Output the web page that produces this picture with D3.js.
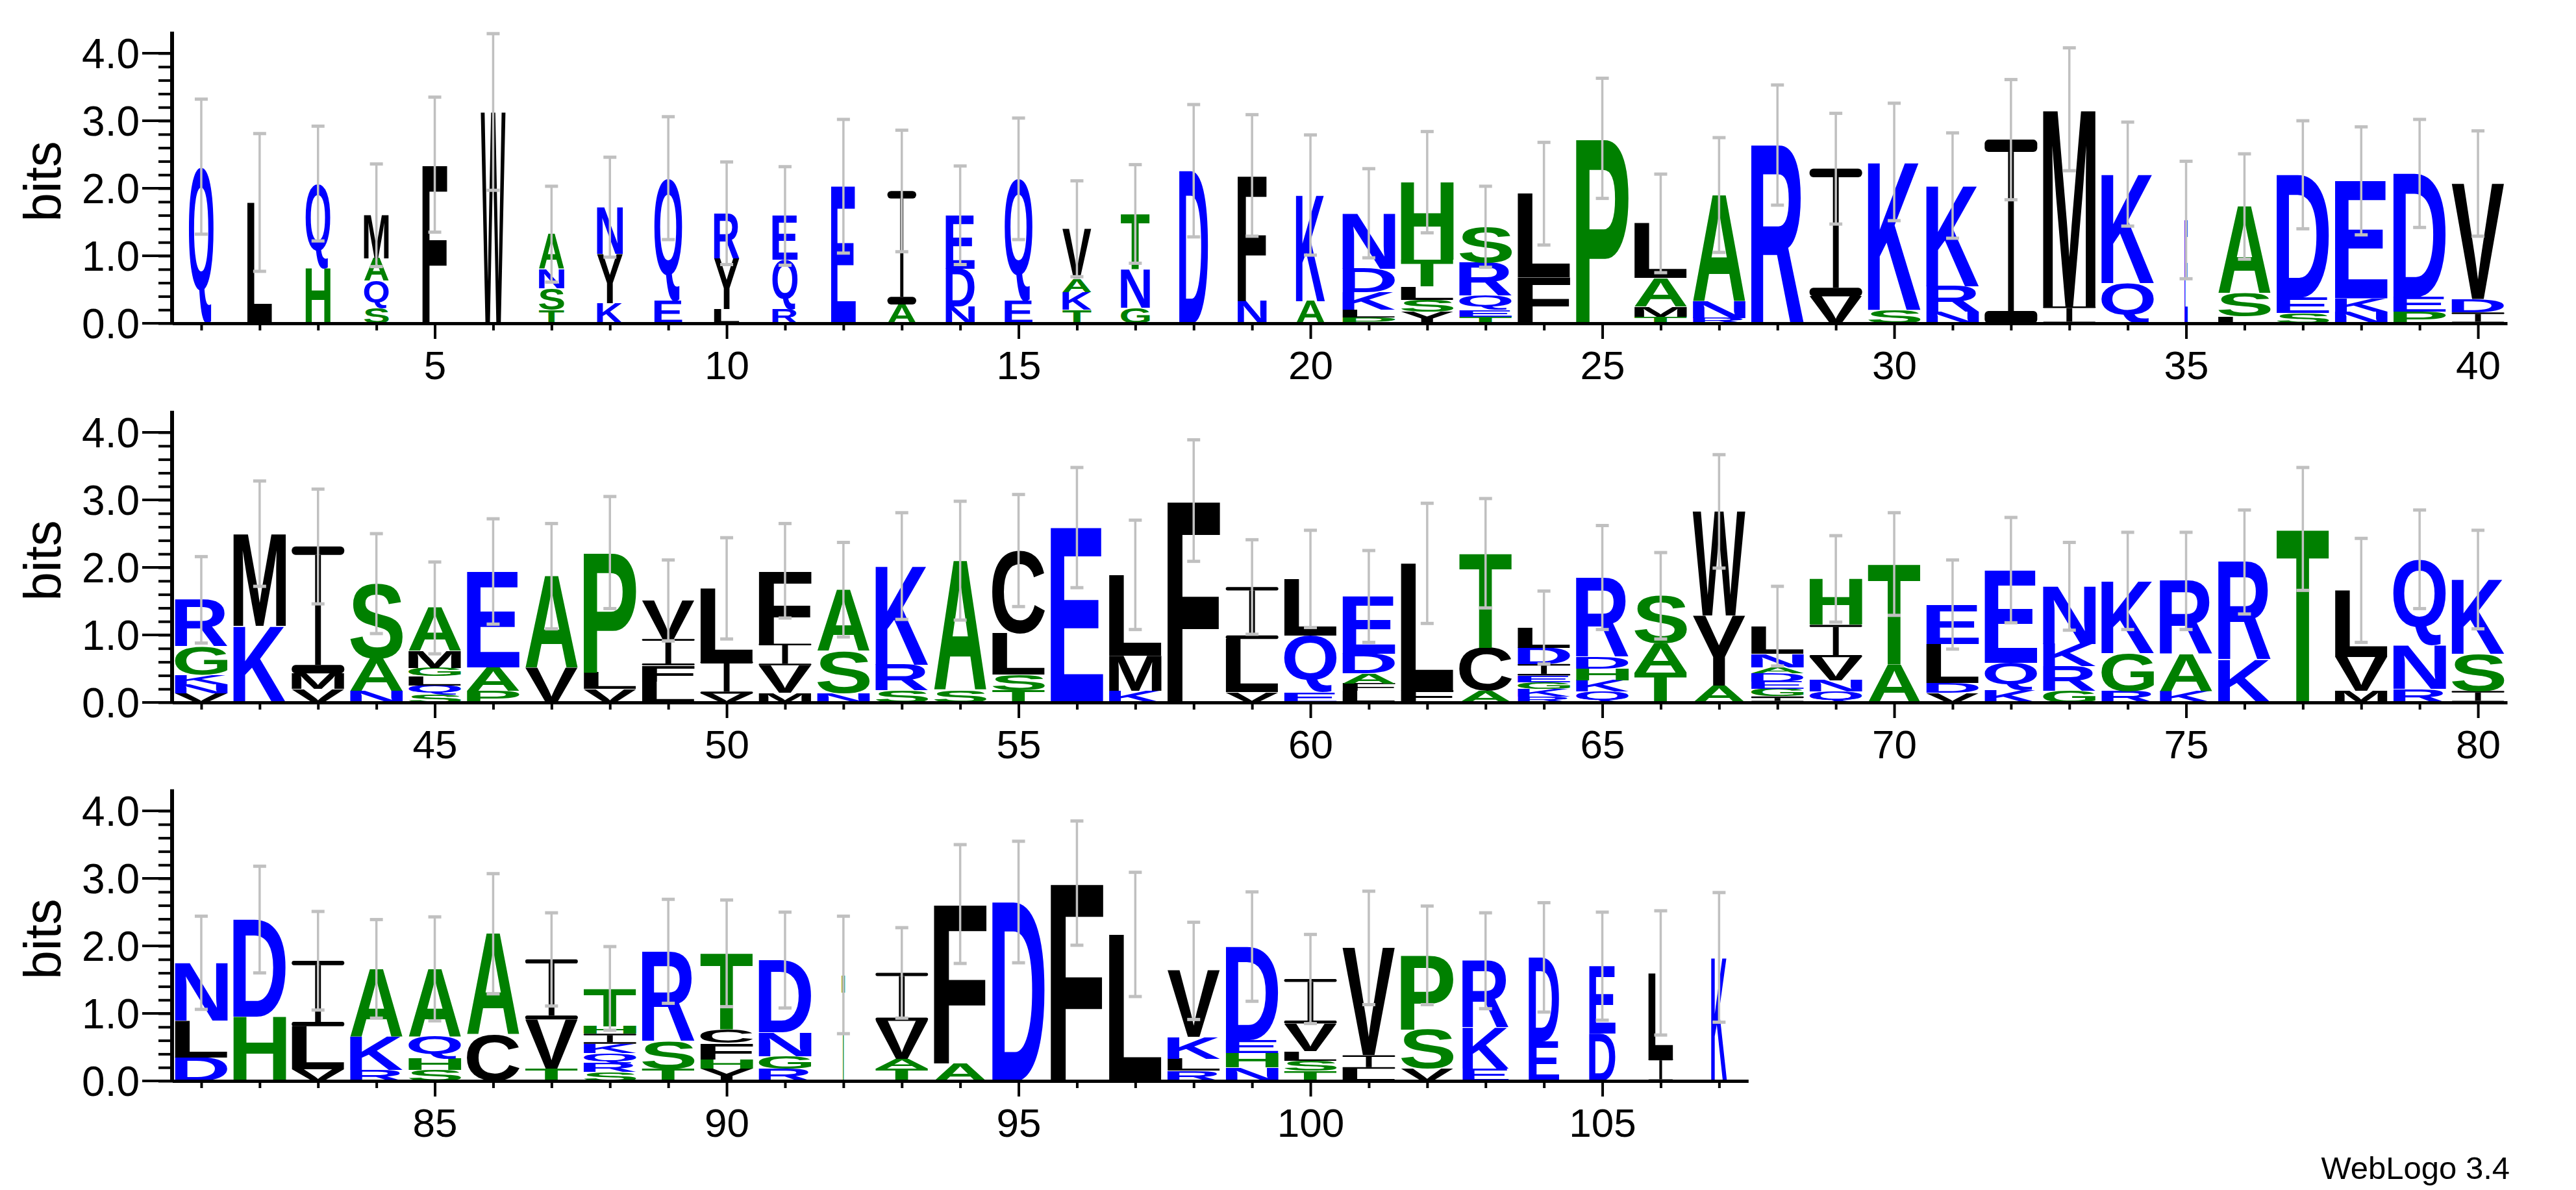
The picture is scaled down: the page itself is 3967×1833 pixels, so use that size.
<!DOCTYPE html>
<html><head><meta charset="utf-8">
<script src="https://cdn.jsdelivr.net/npm/d3@7"></script>
<style>body{margin:0;background:#fff}svg{display:block}</style>
</head><body>
<svg id="c" width="3967" height="1833"></svg>
<script>
// Letters per position, bottom to top
const stackLetters = [
"Q","L","HQ","SQAM","F","W","TSNA","KYN","EQ","LYR",
"RQE","E","AI","NDE","EQ","TKAV","GNT","D","NF","AK",
"PLKDN","YSLTH","TEQRS","FL","P","TMAL","RNA","R","VI","SK",
"NRK","I","IM","QK","E","LSA","SED","NKE","PED","IDV",
"VNKGR","KM","VMI","NAS","SQLGMA","PAE","VA","VLP","LFIV","VIL",
"MVIF","NSA","SRK","SA","TSLC","E","KML","F","VLI","EQL",
"LFADE","FL","ACT","RKGEIDL","QKHDR","TAS","AYW","IGEDANL","QNVIH","AT",
"VDLE","KQE","GRKN","RGK","KAR","KR","T","MVL","RNQ","ISK",
"DLN","HD","VLI","RKA","SHQA","CA","TVI","SRQKIHT","TSR","YHFCT",
"RGND","T","TAVI","AF","D","F","L","RLKV","NHED","TSLVI",
"LIV","VSP","EKR","ED","DE","IL","K"];
// Cumulative top (bits) of each letter in the stack
const stackTops = [
[2.32],[1.79],[0.82,2.07],[0.23,0.63,0.96,1.6],[2.35],[3.13],[0.2,0.52,0.8,1.32],[0.3,1.03,1.72],[0.33,2.15],[0.21,0.96,1.63],
[0.21,0.94,1.59],[2.03],[0.28,1.96],[0.25,0.81,1.6],[0.33,2.14],[0.2,0.46,0.66,1.4],[0.23,0.8,1.62],[2.26],[0.33,2.19],[0.33,1.9],
[0.09,0.2,0.46,0.81,1.63],[0.17,0.35,0.55,0.94,2.09],[0.1,0.2,0.41,0.9,1.43],[0.68,1.92],[2.74],[0.1,0.25,0.67,1.48],[0.08,0.33,1.9],[2.64],[0.4,2.29],[0.2,2.39],
[0.17,0.55,2.04],[2.72],[0.25,3.17],[0.6,2.21],[1.53],[0.1,0.44,1.73],[0.15,0.38,2.2],[0.17,0.37,2.11],[0.17,0.39,2.22],[0.16,0.36,2.07],
[0.13,0.27,0.41,0.83,1.52],[1.13,2.5],[0.2,0.43,2.31],[0.17,0.65,1.76],[0.11,0.25,0.39,0.51,0.76,1.4],[0.17,0.52,1.94],[0.51,1.87],[0.2,0.44,2.22],[0.31,0.55,0.94,1.51],[0.13,0.61,1.69],
[0.14,0.55,0.87,1.95],[0.14,0.76,1.67],[0.18,0.56,2.02],[0.18,2.1],[0.18,0.41,1.02,2.25],[2.59],[0.17,0.69,1.89],[2.99],[0.15,0.94,1.71],[0.15,0.99,1.83],
[0.17,0.28,0.43,0.72,1.57],[0.18,2.06],[0.17,0.81,2.21],[0.09,0.2,0.3,0.4,0.57,0.81,1.11],[0.16,0.33,0.5,0.67,1.85],[0.44,0.87,1.58],[0.25,1.29,2.83],[0.09,0.2,0.31,0.43,0.52,0.72,1.13],[0.16,0.33,0.67,1.15,1.83],[0.56,2.05],
[0.14,0.29,0.87,1.45],[0.19,0.59,1.96],[0.17,0.54,0.87,1.72],[0.17,0.73,1.8],[0.17,0.71,1.8],[0.63,2.08],[2.57],[0.17,0.67,1.66],[0.2,0.85,2.12],[0.17,0.72,1.82],
[0.35,0.89,1.75],[0.95,2.39],[0.17,0.81,1.78],[0.16,0.66,1.66],[0.16,0.33,0.66,1.66],[0.68,2.18],[0.18,0.91,1.8],[0.13,0.26,0.41,0.55,0.7,0.81,1.37],[0.18,0.59,1.92],[0.18,0.32,0.56,0.76,1.89],
[0.18,0.37,0.72,1.79],[1.57],[0.18,0.33,0.89,1.6],[0.26,2.62],[2.65],[2.93],[2.17],[0.15,0.33,0.65,1.63],[0.2,0.41,0.61,1.99],[0.15,0.3,0.44,0.85,1.51],
[0.18,0.38,1.97],[0.18,0.76,1.86],[0.18,0.79,1.78],[0.59,1.83],[0.7,1.7],[0.33,1.6],[1.83]];
// Error bar half-widths (bits)
const errHalf = [
1.0,1.02,0.85,0.76,1.0,1.16,0.71,0.74,0.91,0.76,
0.73,0.99,0.9,0.73,0.9,0.71,0.73,0.98,0.9,0.89,
0.66,0.75,0.6,0.76,0.89,0.73,0.85,0.89,0.82,0.87,
0.78,0.89,0.91,0.77,0.87,0.78,0.8,0.8,0.8,0.78,
0.64,0.78,0.85,0.74,0.68,0.78,0.78,0.83,0.6,0.75,
0.7,0.7,0.79,0.88,0.83,0.89,0.81,0.9,0.7,0.72,
0.68,0.89,0.81,0.54,0.77,0.64,0.84,0.59,0.64,0.76,
0.66,0.78,0.65,0.72,0.72,0.77,0.91,0.77,0.73,0.73,
0.69,0.79,0.73,0.73,0.77,0.89,0.69,0.62,0.77,0.79,
0.71,0.87,0.67,0.88,0.9,0.92,0.92,0.72,0.81,0.66,
0.84,0.73,0.71,0.81,0.8,0.92,0.96];
// Relative stack widths
const stackWidth = [
0.47,0.47,0.47,0.47,0.47,0.47,0.48,0.49,0.53,0.48,
0.48,0.47,0.55,0.55,0.53,0.55,0.55,0.55,0.55,0.55,
1,1,1,1,1,1,1,1,1,1,1,1,1,1,0.06,1,1,1,1,1,
1,1,1,1,1,1,1,1,1,1,1,1,1,1,1,1,1,1,1,1,
1,1,1,1,1,1,1,1,1,1,1,1,1,1,1,1,1,1,1,1,
1,1,1,1,1,1,1,1,1,1,1,0.06,1,1,1,1,1,1,1,1,
1,1,0.88,0.58,0.5,0.47,0.3];
const rowStarts = [1, 41, 81];
const rowEnds = [40, 80, 107];
const yTicks = [0, 1, 2, 3, 4];
const yLabels = ["0.0","1.0","2.0","3.0","4.0"];

const blueSet = "QEDNKR", greenSet = "HASTGP";
const colorOf = c => blueSet.includes(c) ? "#0000ff" : greenSet.includes(c) ? "#008000" : "#000000";

const svg = d3.select("#c");
const FONT = "'Liberation Sans', Arial, sans-serif";
const ctx = document.createElement("canvas").getContext("2d");
ctx.font = "bold 200px " + FONT;
const metricsCache = {};
function metric(ch){
  if(!metricsCache[ch]){
    const m = ctx.measureText(ch);
    metricsCache[ch] = {l:m.actualBoundingBoxLeft, r:m.actualBoundingBoxRight, a:m.actualBoundingBoxAscent, d:m.actualBoundingBoxDescent};
  }
  return metricsCache[ch];
}

const zeroY = [498, 1082, 1665];
const bitPx = 104;
const axisX = 265, step = 89.9, fullW = 81;

rowStarts.forEach((start, r) => {
  const end = rowEnds[r];
  const g = svg.append("g");
  const x = d3.scaleLinear().domain([start - 0.5, end + 0.5]).range([axisX, axisX + (end - start + 1) * step]);
  const y = d3.scaleLinear().domain([0, 4.32]).range([zeroY[r], zeroY[r] - 4.32 * bitPx]);

  for (let p = start; p <= end; p++) {
    const i = p - 1;
    const letters = stackLetters[i], tops = stackTops[i];
    const w = fullW * stackWidth[i];
    const cx = x(p);
    let prev = 0;
    for (let k = 0; k < letters.length; k++) {
      const ch = letters[k], top = tops[k];
      const y0 = y(top), y1 = y(prev);
      prev = top;
      const h = y1 - y0;
      if (h <= 0.5) continue;
      if (ch === "I" && stackWidth[i] > 0.2) {
        // serif-style I as drawn by WebLogo: bar, stem, bar
        const bh = Math.min(h * 0.3, Math.max(2.5, 0.067 * h));
        const sw = Math.max(2, 0.11 * w);
        const ig = g.append("g").attr("fill", colorOf(ch));
        ig.append("rect").attr("x", cx - w/2).attr("y", y0).attr("width", w).attr("height", bh).attr("rx", Math.min(bh/2, 6));
        ig.append("rect").attr("x", cx - w/2).attr("y", y1 - bh).attr("width", w).attr("height", bh).attr("rx", Math.min(bh/2, 6));
        ig.append("rect").attr("x", cx - sw/2).attr("y", y0 + bh).attr("width", sw).attr("height", Math.max(0, h - 2*bh));
        continue;
      }
      const m = metric(ch);
      const gw = m.l + m.r, gh = m.a + m.d;
      g.append("text")
        .attr("transform", `translate(${cx - w/2},${y0}) scale(${w/gw},${h/gh})`)
        .attr("x", m.l).attr("y", m.a)
        .attr("font-family", FONT).attr("font-weight", "bold").attr("font-size", 200)
        .attr("fill", colorOf(ch)).text(ch);
    }
    const tot = tops[tops.length - 1], e = errHalf[i];
    const eg = g.append("g").attr("stroke", "#c0c0c0");
    eg.append("line").attr("x1", cx).attr("x2", cx).attr("y1", y(tot + e)).attr("y2", y(Math.max(0, tot - e))).attr("stroke-width", 3.5);
    [tot + e, tot - e].forEach(v => {
      if (v < 0) return;
      eg.append("line").attr("x1", cx - 10).attr("x2", cx + 10).attr("y1", y(v)).attr("y2", y(v)).attr("stroke-width", 5);
    });
  }

  const xa = d3.axisBottom(x).tickValues(d3.range(start, end + 1)).tickSize(11).tickSizeOuter(0).tickFormat(() => "");
  const xg = g.append("g").attr("transform", `translate(0,${zeroY[r]})`).call(xa);
  xg.select(".domain").attr("stroke-width", 5);
  xg.selectAll(".tick line").attr("stroke-width", 4).attr("y1", 2)
    .filter(d => d % 5 === 0).attr("y2", 24);
  xg.selectAll(".tick").filter(d => d % 5 === 0).append("text")
    .attr("y", 86).attr("fill", "#000").attr("font-size", 62).attr("font-family", FONT)
    .attr("text-anchor", "middle").text(d => d);

  const ya = d3.axisLeft(y).tickValues(d3.range(0, 21).map(v => v * 0.2)).tickSize(21).tickSizeOuter(0).tickFormat(() => "");
  const yg = g.append("g").attr("transform", `translate(${axisX},0)`).call(ya);
  yg.select(".domain").attr("stroke-width", 6).attr("d", `M0,${zeroY[r] + 2}V${y(4.32)}`);
  yg.selectAll(".tick line").attr("stroke-width", 4);
  yTicks.forEach((t, k) => {
    yg.append("line").attr("x1", -46).attr("x2", 0).attr("y1", y(t)).attr("y2", y(t)).attr("stroke", "#000").attr("stroke-width", 4);
    yg.append("text").attr("x", -50).attr("y", y(t)).attr("dy", "0.36em").attr("text-anchor", "end")
      .attr("font-size", 64).attr("font-family", FONT).attr("fill", "#000").text(yLabels[k]);
  });
  g.append("text").attr("transform", `translate(93,${y(2.1)}) rotate(-90)`).attr("text-anchor", "middle")
    .attr("font-size", 80).attr("font-family", FONT).attr("fill", "#000").text("bits");
});

svg.append("text").attr("x", 3865).attr("y", 1816).attr("text-anchor", "end")
  .attr("font-size", 49).attr("font-family", FONT).attr("fill", "#000").text("WebLogo 3.4");
</script>
</body></html>
